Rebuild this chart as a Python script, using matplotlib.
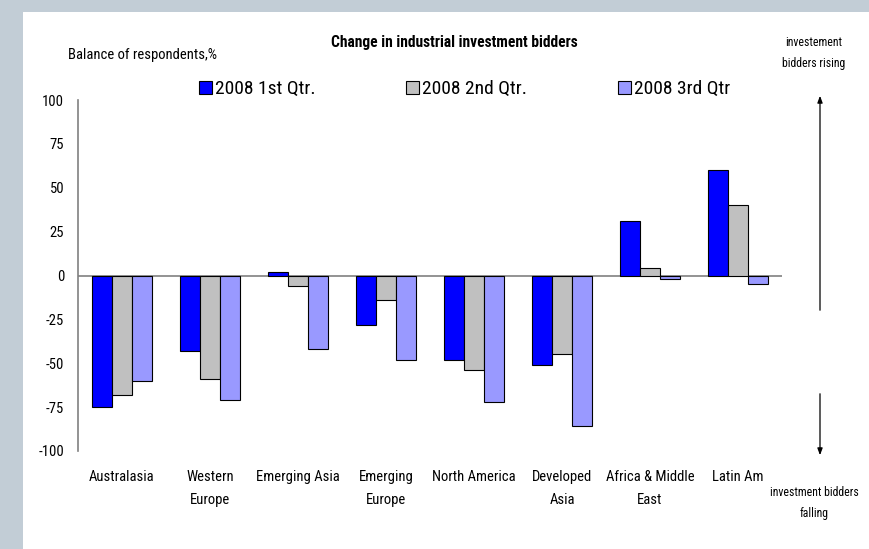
import matplotlib
matplotlib.use("Agg")
import matplotlib.pyplot as plt
import numpy as np

categories = ["Australasia", "Western\nEurope", "Emerging Asia", "Emerging\nEurope",
              "North America", "Developed\nAsia", "Africa & Middle\nEast", "Latin Am"]
series_names = ["2008 1st Qtr.", "2008 2nd Qtr.", "2008 3rd Qtr"]
q1 = [-75, -43, 2, -28, -48, -51, 31, 60]
q2 = [-68, -59, -6, -14, -54, -45, 4, 40]
q3 = [-60, -71, -42, -48, -72, -86, -2, -5]
yticks = [100, 75, 50, 25, 0, -25, -50, -75, -100]
colors = ["#0000FF", "#C0C0C0", "#9999FF"]

plt.rcParams["font.family"] = ["Roboto Condensed", "DejaVu Sans"]

W, H = 869, 549
fig = plt.figure(figsize=(W / 100, H / 100), dpi=100)
fig.patch.set_facecolor("#C2CDD6")

def fx(x):
    return x / W

def fy(y):
    return 1 - y / H

bg = fig.add_axes([fx(23), 0, 1 - fx(23), fy(12)], zorder=-5)
bg.axis("off")
bg.add_patch(plt.Rectangle((0, 0), 1, 1, transform=bg.transAxes, color="white"))

ax = fig.add_axes([fx(78), fy(451), fx(782) - fx(78), fy(100) - fy(451)])
ax.set_facecolor("none")
x = np.arange(len(categories))
bw = 20 / 88
bars = []
for i, (vals, c) in enumerate(zip([q1, q2, q3], colors)):
    b = ax.bar(x + (i - 1) * bw, vals, width=bw, color=c, edgecolor="black", linewidth=0.8,
               label=series_names[i], zorder=3)
    bars.append(b)
ax.set_xlim(-0.5, len(categories) - 0.5)
ax.set_ylim(-100, 100)
ax.axhline(0, color="#808080", linewidth=1.2, zorder=2)
for s in ["top", "right", "bottom"]:
    ax.spines[s].set_visible(False)
ax.spines["left"].set_color("#808080")
ax.spines["left"].set_linewidth(1.2)
ax.set_yticks(yticks)
ax.set_yticklabels([str(v) for v in yticks], fontsize=10.5)
ax.tick_params(axis="y", length=0, pad=10)
ax.set_xticks(x)
ax.set_xticklabels(categories, fontsize=10.5, linespacing=1.75)
ax.tick_params(axis="x", length=0, pad=14)

fig.text(fx(454), fy(43), "Change in industrial investment bidders", ha="center", va="center",
         fontsize=11.2, fontweight="bold")
fig.text(fx(68), fy(55), "Balance of respondents,%", ha="left", va="center", fontsize=10.5)
fig.text(fx(814), fy(53), "investement\nbidders rising", ha="center", va="center",
         fontsize=8.5, linespacing=1.75)
fig.text(fx(814), fy(503), "investment bidders\nfalling", ha="center", va="center",
         fontsize=8.5, linespacing=1.75)

for b, name, xl in zip(bars, series_names, [199, 406, 618]):
    lg = fig.legend([b], [name], loc="center left", bbox_to_anchor=(fx(xl), fy(89)),
                    frameon=False, fontsize=14, handlelength=0.65, handleheight=0.65,
                    handletextpad=0.15, borderaxespad=0, borderpad=0)

fig.add_artist(matplotlib.patches.FancyArrowPatch((fx(820), fy(313)), (fx(820), fy(93)),
               transform=fig.transFigure, arrowstyle="-|>,head_length=4,head_width=1.5",
               color="black", linewidth=0.9, mutation_scale=1))
fig.add_artist(matplotlib.patches.FancyArrowPatch((fx(820), fy(391)), (fx(820), fy(458)),
               transform=fig.transFigure, arrowstyle="-|>,head_length=4,head_width=1.5",
               color="black", linewidth=0.9, mutation_scale=1))

fig.savefig("out.png", dpi=100, facecolor=fig.get_facecolor())
